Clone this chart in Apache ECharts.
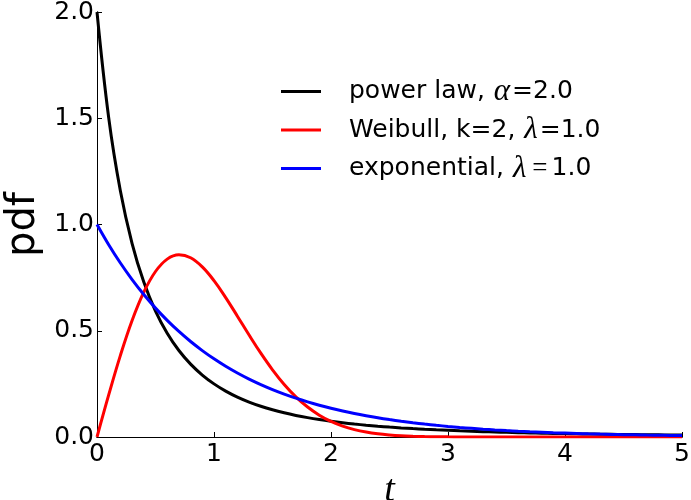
<!DOCTYPE html>
<html>
<head>
<meta charset="utf-8">
<script src="https://cdn.jsdelivr.net/npm/echarts@6/dist/echarts.min.js"></script>
<style>html,body{margin:0;padding:0;background:#fff}#c{width:691px;height:500px}</style>
</head>
<body>
<div id="c"></div>
<script>
var tValues = [0,0.1,0.2,0.3,0.4,0.5,0.6,0.7,0.8,0.9,1.0,1.1,1.2,1.3,1.4,1.5,1.6,1.7,1.8,1.9,2.0,2.1,2.2,2.3,2.4,2.5,2.6,2.7,2.8,2.9,3.0,3.1,3.2,3.3,3.4,3.5,3.6,3.7,3.8,3.9,4.0,4.1,4.2,4.3,4.4,4.5,4.6,4.7,4.8,4.9,5.0];
var powerLaw = [2.0,1.5026,1.1574,0.9103,0.7289,0.5926,0.4883,0.4071,0.3429,0.2916,0.25,0.2160,0.1878,0.1644,0.1447,0.128,0.1138,0.1016,0.0911,0.0820,0.0741,0.0671,0.0610,0.0557,0.0509,0.0466,0.0429,0.0395,0.0364,0.0337,0.0313,0.0290,0.0270,0.0252,0.0235,0.0219,0.0205,0.0193,0.0181,0.0170,0.016,0.0151,0.0142,0.0134,0.0127,0.0120,0.0114,0.0108,0.0103,0.0097,0.0093];
var weibull = [0,0.1980,0.3843,0.5484,0.6817,0.7788,0.8372,0.8577,0.8437,0.8007,0.7358,0.6560,0.5686,0.4797,0.3944,0.3162,0.2474,0.1890,0.1410,0.1028,0.0733,0.0511,0.0348,0.0232,0.0151,0.0097,0.0060,0.0037,0.0022,0.0013,0.0007,0.0004,0.0002,0.0001,0,0,0,0,0,0,0,0,0,0,0,0,0,0,0,0,0];
var exponential = [1.0,0.9048,0.8187,0.7408,0.6703,0.6065,0.5488,0.4966,0.4493,0.4066,0.3679,0.3329,0.3012,0.2725,0.2466,0.2231,0.2019,0.1827,0.1653,0.1496,0.1353,0.1225,0.1108,0.1003,0.0907,0.0821,0.0743,0.0672,0.0608,0.0550,0.0498,0.0450,0.0408,0.0369,0.0334,0.0302,0.0273,0.0247,0.0224,0.0202,0.0183,0.0166,0.0150,0.0136,0.0123,0.0111,0.0101,0.0091,0.0082,0.0074,0.0067];
var seriesNames = ['power law, α=2.0', 'Weibull, k=2, λ=1.0', 'exponential, λ=1.0'];
var seriesLabels = ['power law, {m|α}=2.0', 'Weibull, k=2, {m|λ}=1.0', 'exponential, {m|λ}{e|=}1.0'];
var seriesColors = ['#000000', '#ff0000', '#0000ff'];
var xTicks = [0,1,2,3,4,5];
var yTicks = [0.0,0.5,1.0,1.5,2.0];

function pairs(ys){ return tValues.map(function(t,i){ return [t, ys[i]]; }); }
var allData = [powerLaw, weibull, exponential];

var chart = echarts.init(document.getElementById('c'), null, {renderer:'canvas'});
var sansFont = 'DejaVu Sans';
var rich = {
  m: {fontFamily:'Liberation Serif', fontStyle:'italic', fontSize:31, color:'#000', padding:[0,2,0,1]},
  e: {fontFamily:'Liberation Serif', fontSize:27, color:'#000', padding:[0,4,0,4]}
};
var legends = seriesNames.map(function(n, i){
  return {
    data:[{name:n, icon:'rect'}],
    left: 276, top: 71 + i*38.5,
    itemWidth: 40, itemHeight: 3,
    orient:'vertical',
    formatter: function(){ return seriesLabels[i]; },
    textStyle: {fontFamily:sansFont, fontSize:25, color:'#000', padding:[0,0,0,23], rich: rich},
    selectedMode:false
  };
});
var option = {
  animation:false,
  backgroundColor:'#fff',
  grid:{left:97, right:9, top:12, bottom:63, containLabel:false, outerBoundsMode:'none'},
  legend: legends,
  xAxis:[{
    type:'value', min:xTicks[0], max:xTicks[xTicks.length-1], interval:1,
    name:'t', nameLocation:'middle', nameGap:18,
    nameTextStyle:{fontFamily:'Liberation Serif', fontStyle:'italic', fontSize:38, color:'#000'},
    axisLine:{show:true, onZero:false, lineStyle:{color:'#000', width:1}},
    axisTick:{show:true, inside:true, length:5, lineStyle:{color:'#000'}},
    axisLabel:{fontFamily:sansFont, fontSize:25, color:'#000', margin:5, formatter:function(v){return String(v);}},
    splitLine:{show:false}
  },{
    type:'value', position:'top', min:0, max:5,
    axisLine:{show:true, lineStyle:{color:'#000', width:1}},
    axisTick:{show:false}, axisLabel:{show:false}, splitLine:{show:false}
  }],
  yAxis:[{
    type:'value', min:yTicks[0], max:yTicks[yTicks.length-1], interval:0.5,
    name:'pdf', nameLocation:'middle', nameGap:46, nameRotate:90,
    nameTextStyle:{fontFamily:sansFont, fontSize:40, color:'#000'},
    axisLine:{show:true, onZero:false, lineStyle:{color:'#000', width:1}},
    axisTick:{show:true, inside:true, length:5, lineStyle:{color:'#000'}},
    axisLabel:{fontFamily:sansFont, fontSize:25, color:'#000', margin:3, formatter:function(v){return v.toFixed(1);}},
    splitLine:{show:false}
  },{
    type:'value', position:'right', min:0, max:2,
    axisLine:{show:true, lineStyle:{color:'#000', width:1}},
    axisTick:{show:false}, axisLabel:{show:false}, splitLine:{show:false}
  }],
  series: allData.map(function(d,i){
    return {
      name: seriesNames[i], type:'line', data: pairs(d),
      showSymbol:false, symbol:'none', smooth:0.4,
      clip:true,
      lineStyle:{color:seriesColors[i], width:3},
      itemStyle:{color:seriesColors[i]}
    };
  })
};
chart.setOption(option);
</script>
</body>
</html>
